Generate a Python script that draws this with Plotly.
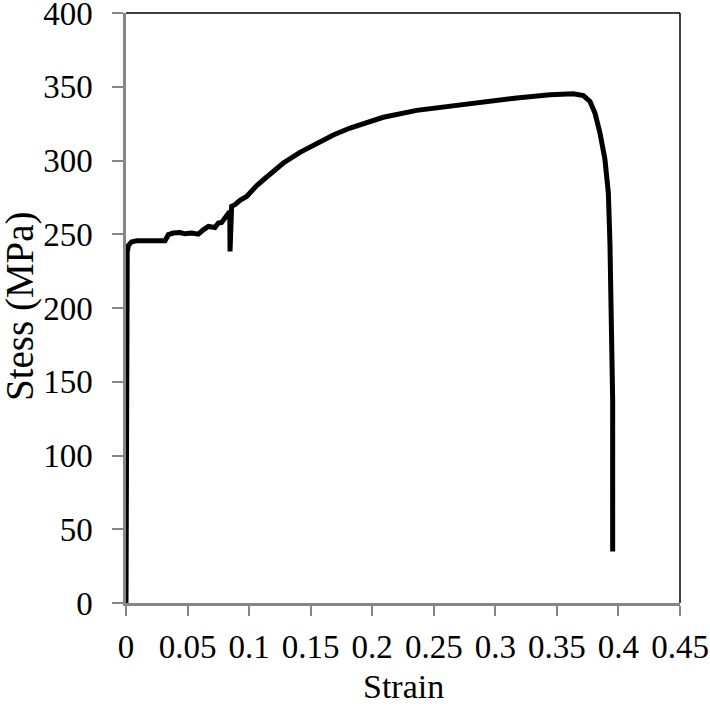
import plotly.graph_objects as go

# tensile test curve
strain = [0, 0.0003, 0.0005, 0.001, 0.002, 0.0045, 0.0087, 0.02, 0.0317,
          0.0344, 0.0384, 0.0439, 0.0479, 0.0534, 0.0587, 0.0628, 0.0669,
          0.0723, 0.075, 0.0777, 0.0818, 0.0843, 0.0845, 0.0848, 0.0858,
          0.0885, 0.0926, 0.098, 0.1007, 0.1062, 0.1143, 0.1278, 0.1413,
          0.1549, 0.1684, 0.182, 0.1955, 0.209, 0.2361, 0.2632, 0.2902,
          0.3174, 0.3444, 0.3633, 0.3715, 0.3769, 0.381, 0.385, 0.389,
          0.3918, 0.3931, 0.394, 0.395, 0.3953, 0.3953]
stress = [0, 150, 220, 238, 242.5, 244.8, 245.6, 245.8, 245.6,
          249.7, 250.8, 251.2, 250.3, 250.8, 250.1, 253, 255.3,
          254.6, 257.6, 258, 262, 265.5, 238.3, 262, 268.9,
          270, 273, 275.6, 278, 283, 288.8, 298.3, 305.5,
          311.9, 317.3, 322, 325.8, 329.3, 334, 336.7, 340.1,
          342.4, 344.6, 345.3, 344, 340, 332, 318.7, 301,
          278, 244, 210, 176, 137.7, 35]

x_ticks = [0, 0.05, 0.1, 0.15, 0.2, 0.25, 0.3, 0.35, 0.4, 0.45]
x_tick_labels = ["0", "0.05", "0.1", "0.15", "0.2", "0.25", "0.3", "0.35", "0.4", "0.45"]
y_ticks = [0, 50, 100, 150, 200, 250, 300, 350, 400]

FONT = "Liberation Serif"
AXIS_GREY = "#868686"

fig = go.Figure()
fig.add_trace(go.Scatter(x=strain, y=stress, mode="lines",
                         line=dict(color="black", width=5),
                         showlegend=False))

fig.update_layout(
    width=710, height=706,
    margin=dict(l=126, r=30, t=13, b=103),
    paper_bgcolor="white", plot_bgcolor="white",
    font=dict(family=FONT, size=33, color="black"),
)
fig.update_xaxes(
    range=[0, 0.45], tickvals=x_ticks, ticktext=x_tick_labels,
    automargin=False, ticklabeloverflow="allow",
    showgrid=False, zeroline=False,
    showline=True, linecolor=AXIS_GREY, linewidth=2.5,
    ticks="outside", ticklen=10, tickwidth=2, tickcolor=AXIS_GREY,
    ticklabelstandoff=3,
)
fig.update_yaxes(
    range=[0, 400], tickvals=y_ticks,
    automargin=False, ticklabeloverflow="allow",
    showgrid=False, zeroline=False,
    showline=True, linecolor=AXIS_GREY, linewidth=2.5,
    ticks="outside", ticklen=11, tickwidth=2, tickcolor=AXIS_GREY,
    ticklabelstandoff=13,
)

# axis titles
fig.add_annotation(text="Strain", xref="paper", yref="paper", x=0.5, y=0,
                   yshift=-83, xanchor="center", yanchor="middle",
                   showarrow=False, font=dict(size=34))
fig.add_annotation(text="Stess (MPa)", xref="paper", yref="paper", x=0, y=0.5,
                   xshift=-106, yshift=2, xanchor="center", yanchor="middle",
                   textangle=-90, showarrow=False, font=dict(size=39))

# thin black frame on top and right
fig.add_shape(type="line", xref="paper", yref="paper", x0=0, x1=1, y0=1, y1=1,
              line=dict(color="black", width=1.5))
fig.add_shape(type="line", xref="paper", yref="paper", x0=1, x1=1, y0=0, y1=1,
              line=dict(color="black", width=1.5))

# page body has an 8px default margin; drop it so the figure sits at 0,0
fig.write_html("out.html", config={"displayModeBar": False},
               post_script="document.body.style.margin='0';")
